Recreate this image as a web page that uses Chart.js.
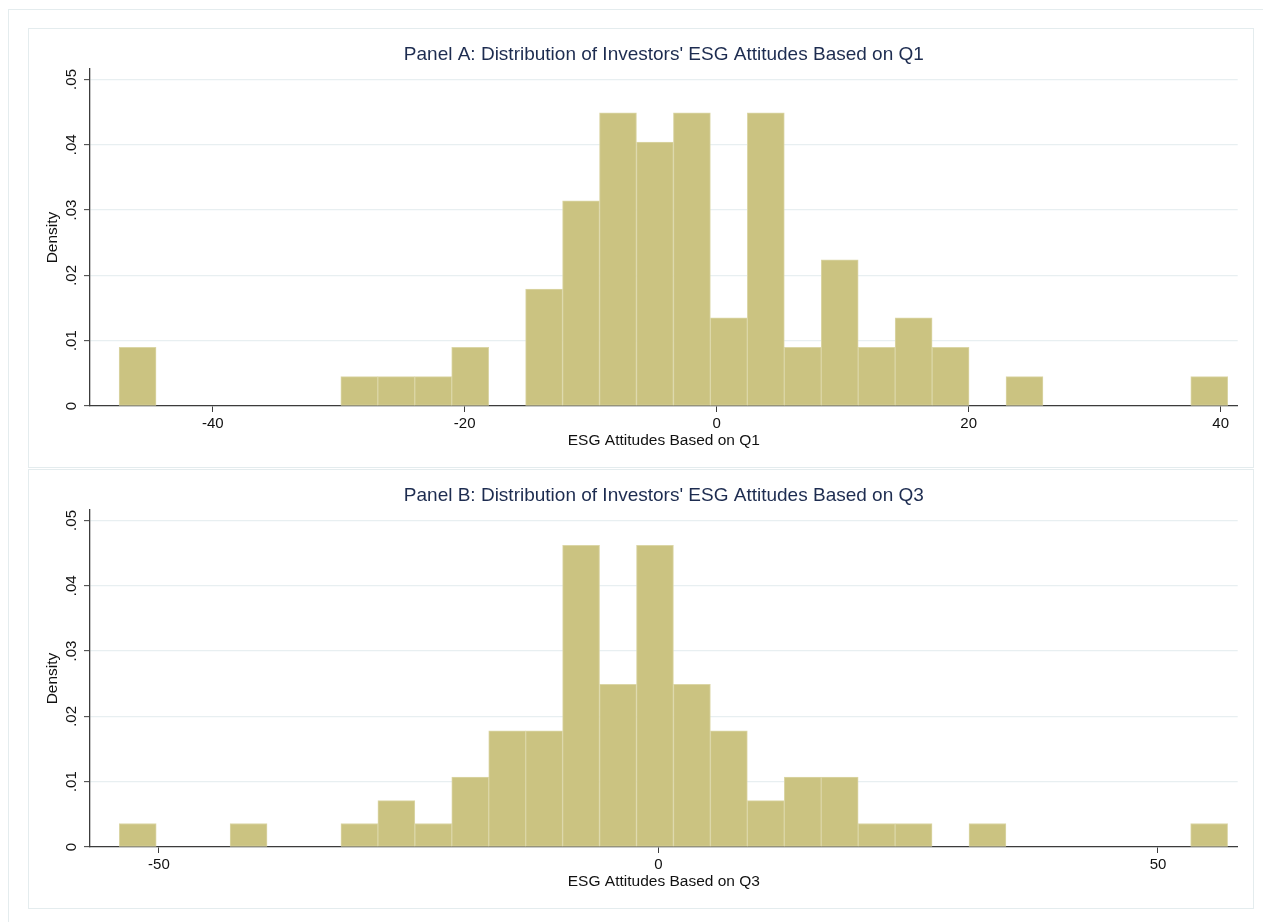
<!DOCTYPE html>
<html>
<head>
<meta charset="utf-8">
<title>Distribution of Investors' ESG Attitudes</title>
<script src="https://cdn.jsdelivr.net/npm/chart.js@4.4.1/dist/chart.umd.min.js"></script>
<style>
  html, body { margin: 0; padding: 0; background: #ffffff; }
  body { width: 1263px; height: 922px; overflow: hidden; position: relative; }
  .frame { position: absolute; border: 1px solid #e4ecee; box-sizing: border-box; }
  canvas { position: absolute; }
</style>
</head>
<body>
<div class="frame" style="left:8px;top:9px;width:1280px;height:940px;"></div>
<div class="frame" style="left:28px;top:28px;width:1226px;height:440px;"></div>
<div class="frame" style="left:28px;top:469px;width:1226px;height:440px;"></div>
<canvas id="panelA" width="1226" height="440" style="left:28px;top:28px;"></canvas>
<canvas id="panelB" width="1226" height="440" style="left:28px;top:469px;"></canvas>
<script>
// Panel A: histogram of ESG attitudes based on Q1 (30 equal-width bins)
const q1BinStart = -47.43;
const q1BinWidth = 2.933;
const q1Density = [
  0.0090, 0, 0, 0, 0, 0, 0.0045, 0.0045, 0.0045, 0.0090,
  0, 0.0179, 0.0314, 0.0449, 0.0404, 0.0449, 0.0135, 0.0449, 0.0090, 0.0224,
  0.0090, 0.0135, 0.0090, 0, 0.0045, 0, 0, 0, 0, 0.0045
];
const q1XTicks = [-40, -20, 0, 20, 40];
const q1XRange = [-49.74, 41.35];

// Panel B: histogram of ESG attitudes based on Q3 (30 equal-width bins)
const q3BinStart = -53.97;
const q3BinWidth = 3.698;
const q3Density = [
  0.0036, 0, 0, 0.0036, 0, 0, 0.0036, 0.0071, 0.0036, 0.0107,
  0.0178, 0.0178, 0.0462, 0.0249, 0.0462, 0.0249, 0.0178, 0.0071, 0.0107, 0.0107,
  0.0036, 0.0036, 0, 0.0036, 0, 0, 0, 0, 0, 0.0036
];
const q3XTicks = [-50, 0, 50];
const q3XRange = [-56.9, 57.98];

// Shared density axis
const yTicks = [0, 0.01, 0.02, 0.03, 0.04, 0.05];
const yTickLabels = ['0', '.01', '.02', '.03', '.04', '.05'];
const yMax = 0.0516;

Chart.defaults.font.family = '"Liberation Sans", Arial, Helvetica, sans-serif';
Chart.defaults.color = '#111111';

const BAR_FILL = '#cbc381';
const BAR_EDGE = '#dbd6a6';
const AXIS_COLOR = '#3c3c3c';
const GRID_COLOR = '#e8eff1';

function makePanel(canvasId, titleText, xTitle, binStart, binWidth, density, xTicks, xRange) {
  const points = density.map((d, i) => ({ x: binStart + binWidth * (i + 0.5), y: d }));
  return new Chart(document.getElementById(canvasId), {
    type: 'bar',
    data: {
      datasets: [{
        data: points,
        backgroundColor: BAR_FILL,
        borderColor: BAR_EDGE,
        borderWidth: 1,
        borderSkipped: false,
        barPercentage: 1,
        categoryPercentage: 1
      }]
    },
    options: {
      responsive: false,
      animation: false,
      devicePixelRatio: 1,
      layout: { padding: { left: 11.2, right: 16.3, top: 0, bottom: 13.8 } },
      plugins: {
        legend: { display: false },
        tooltip: { enabled: false },
        title: {
          display: true,
          text: titleText,
          fullSize: false,
          color: '#1d2c50',
          font: { size: 19, weight: 'normal' },
          padding: { top: 15.6, bottom: 2.6 }
        }
      },
      scales: {
        x: {
          type: 'linear',
          min: xRange[0],
          max: xRange[1],
          offset: false,
          z: 1,
          afterBuildTicks: s => { s.ticks = xTicks.map(v => ({ value: v })); },
          afterFit: s => { s.height = 48.2; },
          ticks: {
            autoSkip: false,
            maxRotation: 0,
            padding: 2.4,
            color: '#111111',
            font: { size: 15 },
            callback: v => String(v)
          },
          grid: {
            offset: false,
            drawOnChartArea: false,
            drawTicks: true,
            tickLength: 6,
            tickColor: AXIS_COLOR,
            tickWidth: 1
          },
          border: { display: true, color: AXIS_COLOR, width: 1.3 },
          title: {
            display: true,
            text: xTitle,
            color: '#111111',
            font: { size: 15.5 },
            padding: { top: 0, bottom: 4 }
          }
        },
        y: {
          type: 'linear',
          min: 0,
          max: yMax,
          afterBuildTicks: s => { s.ticks = yTicks.map(v => ({ value: v })); },
          afterFit: s => { s.width = 50.8; },
          ticks: {
            minRotation: 90,
            maxRotation: 90,
            crossAlign: 'center',
            padding: 2.1,
            color: '#111111',
            font: { size: 15 },
            callback: (v, i) => yTickLabels[i]
          },
          grid: {
            color: GRID_COLOR,
            lineWidth: 1.3,
            drawTicks: true,
            tickLength: 6,
            tickColor: AXIS_COLOR,
            tickWidth: 1
          },
          border: { display: true, color: AXIS_COLOR, width: 1.3 },
          title: {
            display: true,
            text: 'Density',
            color: '#111111',
            font: { size: 15.5 },
            padding: { top: 4, bottom: 0 }
          }
        }
      }
    }
  });
}

makePanel('panelA', "Panel A: Distribution of Investors' ESG Attitudes Based on Q1",
  'ESG Attitudes Based on Q1', q1BinStart, q1BinWidth, q1Density, q1XTicks, q1XRange);
makePanel('panelB', "Panel B: Distribution of Investors' ESG Attitudes Based on Q3",
  'ESG Attitudes Based on Q3', q3BinStart, q3BinWidth, q3Density, q3XTicks, q3XRange);
</script>
</body>
</html>
